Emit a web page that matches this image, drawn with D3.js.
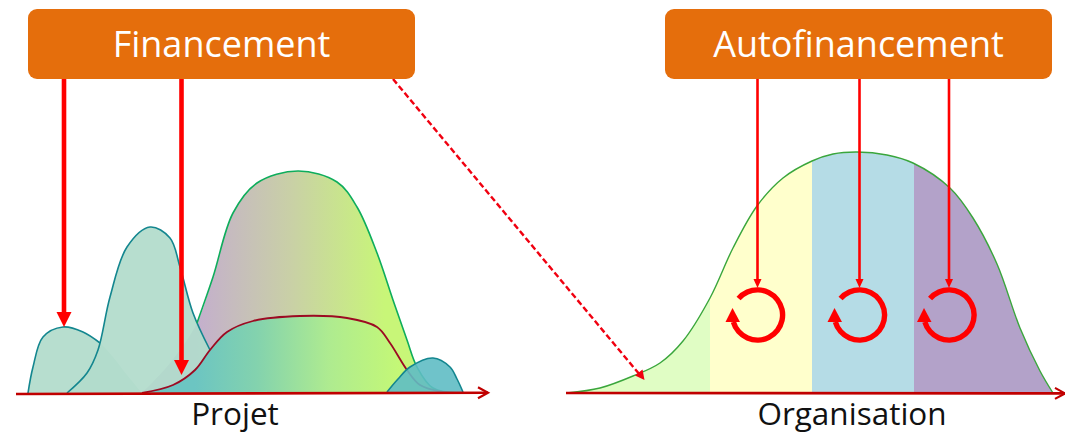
<!DOCTYPE html>
<html lang="fr">
<head>
<meta charset="utf-8">
<title>Financement et autofinancement</title>
<script src="https://cdn.jsdelivr.net/npm/d3@7/dist/d3.min.js"></script>
<style>
  html, body { margin: 0; padding: 0; background: #fff; }
  svg { display: block; }
  text { font-family: "Open Sans", sans-serif; }
</style>
</head>
<body>
<svg id="chart" width="1065" height="432"></svg>
<script>
// Project humps on the "Projet" axis: [position, level]
const seedStage = [[28,0],[33,26],[43,56],[63,66],[83,61],[100,50],[113,36],[127,18],[142,0]];
const seedStroked = 100;
const launchStage = [[67,0],[87,20],[98,43],[110,96],[127,146],[150,166],[170,155],[180,126],[193,80],[210,43],[232,0]];
const launchStroked = 210;
const mainStage = [[142,0],[170,30],[197,70],[213,116],[233,180],[257,210],[298,222],[337,211],[357,186],[377,140],[393,93],[407,53],[417,26],[433,5],[460,0]];
const mainStroked = 197;
const coreStage = [[142,0],[173,8],[195,23],[210,43],[227,61],[253,72],[300,77],[347,75],[377,66],[390,50],[407,23],[420,8],[443,1],[455,0]];
const closingStage = [[387,1],[398,14],[410,26],[433,35],[450,26],[457,14],[463,1]];

// Organisation life curve on the second axis: [position, level]
const orgCurve = [[567,0],[600,5],[633,17],[660,30],[683,52],[710,95],[733,145],[757,187],[783,215],[812,232],[833,239],[857,241],[887,238],[913,230],[950,205],[973,175],[997,129],[1020,65],[1040,22],[1053,0]];
const orgBandEdges = [567, 710, 812, 914, 1053];
const orgBandColors = ["#e0fdc4", "#ffffcc", "#b5dce6", "#b3a2c9"];

// Funding boxes and their labels
const boxLabels = ["Financement", "Autofinancement"];
const boxSpans = [[28, 415], [665, 1052]];
const axisNames = ["Projet", "Organisation"];
const axisNameCentres = [235, 852];

// Funding flows
const heavyFlows = [[64, 66], [181.5, 18]];
const lightFlows = [757.5, 859.5, 949];
const cycleCentres = [757.5, 859.5, 949];

const svg = d3.select("#chart");
const x = d3.scaleLinear().domain([0, 1065]).range([0, 1065]);
const y = d3.scaleLinear().domain([0, 241]).range([393, 152]);

const curve = d3.curveCatmullRom.alpha(0.5);
const area = d3.area().x(d => x(d[0])).y0(y(0)).y1(d => y(d[1])).curve(curve);
const line = d3.line().x(d => x(d[0])).y(d => y(d[1])).curve(curve);
const poly = d3.line();

// Gradients running across the main project stage
const defs = svg.append("defs");
function hGradient(id, x1, x2, stops) {
  const g = defs.append("linearGradient").attr("id", id)
    .attr("gradientUnits", "userSpaceOnUse")
    .attr("x1", x(x1)).attr("x2", x(x2)).attr("y1", 0).attr("y2", 0);
  stops.forEach(s => g.append("stop").attr("offset", s[0]).attr("stop-color", s[1]));
}
hGradient("mainFill", 197, 385, [[0, "#c4afcd"], [0.5, "#c9d0a6"], [1, "#c8f678"]]);
hGradient("coreFill", 195, 400, [[0, "#6cc5c2"], [0.3, "#83d2ae"], [0.65, "#aeeb90"], [1, "#c4f876"]]);
defs.append("clipPath").attr("id", "orgClip").append("path").attr("d", area(orgCurve));

// Left panel
svg.append("path").attr("d", area(mainStage)).attr("fill", "url(#mainFill)");
[seedStage, launchStage].forEach(s => {
  svg.append("path").attr("d", area(s)).attr("fill", "#b2dbcb").attr("fill-opacity", 0.93);
});
const strokeUpTo = (pts, limit) => pts.filter(p => p[0] <= limit);
const strokeFrom = (pts, limit) => pts.filter(p => p[0] >= limit);
svg.append("path").attr("d", line(strokeUpTo(seedStage, seedStroked)))
  .attr("fill", "none").attr("stroke", "#13868f").attr("stroke-width", 1.6);
svg.append("path").attr("d", line(strokeUpTo(launchStage, launchStroked)))
  .attr("fill", "none").attr("stroke", "#13868f").attr("stroke-width", 1.6);
svg.append("path").attr("d", line(strokeFrom(mainStage, mainStroked)))
  .attr("fill", "none").attr("stroke", "#0ead5c").attr("stroke-width", 1.6);
svg.append("path").attr("d", area(coreStage)).attr("fill", "url(#coreFill)");
svg.append("path").attr("d", line(coreStage))
  .attr("fill", "none").attr("stroke", "#9c0a22").attr("stroke-width", 1.8);
svg.append("path").attr("d", area(closingStage)).attr("fill", "#5fbcc4").attr("fill-opacity", 0.9);
svg.append("path").attr("d", line(closingStage))
  .attr("fill", "none").attr("stroke", "#13868f").attr("stroke-width", 1.6);

// Right panel: one coloured band per growth phase, cut to the curve
const orgBands = svg.append("g").attr("clip-path", "url(#orgClip)");
orgBandColors.forEach((c, i) => {
  orgBands.append("rect")
    .attr("x", x(orgBandEdges[i])).attr("width", x(orgBandEdges[i + 1]) - x(orgBandEdges[i]))
    .attr("y", y(241) - 2).attr("height", y(0) - y(241) + 2)
    .attr("fill", c);
});
svg.append("path").attr("d", line(orgCurve))
  .attr("fill", "none").attr("stroke", "#3aa63c").attr("stroke-width", 1.4);

// Axes with an open arrow tip
const axisRed = "#c00000";
[[16, 394, 488, 392.7], [566, 393, 1065, 393.4]].forEach(a => {
  svg.append("line").attr("x1", a[0]).attr("y1", a[1]).attr("x2", a[2]).attr("y2", a[3])
    .attr("stroke", axisRed).attr("stroke-width", 2.6);
  svg.append("path")
    .attr("d", poly([[a[2] - 10, a[3] - 5.5], [a[2], a[3]], [a[2] - 10, a[3] + 5.5]]))
    .attr("fill", "none").attr("stroke", axisRed).attr("stroke-width", 2.2);
});
axisNames.forEach((t, i) => {
  svg.append("text").attr("x", x(axisNameCentres[i])).attr("y", 424.5)
    .attr("text-anchor", "middle").attr("font-size", 31.5).attr("fill", "#111").text(t);
});

// Dashed transfer between the two panels
const transfer = [[393, 79], [640, 375]];
svg.append("line").attr("x1", transfer[0][0]).attr("y1", transfer[0][1])
  .attr("x2", transfer[1][0]).attr("y2", transfer[1][1])
  .attr("stroke", "#f00010").attr("stroke-width", 2.4).attr("stroke-dasharray", "6 3");
svg.append("path").attr("d", poly([[644.5, 380], [635, 375.5], [642.5, 369.5]])).attr("fill", "#f00010");

// Funding arrows
const flowRed = "#ff0000";
heavyFlows.forEach(([px, level]) => {
  const tip = y(level);
  svg.append("line").attr("x1", x(px)).attr("x2", x(px)).attr("y1", 79).attr("y2", tip - 14)
    .attr("stroke", flowRed).attr("stroke-width", 4.6);
  svg.append("path").attr("d", poly([[x(px) - 7.5, tip - 15], [x(px) + 7.5, tip - 15], [x(px), tip]])).attr("fill", flowRed);
});
lightFlows.forEach(px => {
  svg.append("line").attr("x1", x(px)).attr("x2", x(px)).attr("y1", 79).attr("y2", 281)
    .attr("stroke", flowRed).attr("stroke-width", 2.6);
  svg.append("path").attr("d", poly([[x(px) - 4, 279], [x(px) + 4, 279], [x(px), 288]])).attr("fill", flowRed);
});

// Renewal cycles
const deg = Math.PI / 180;
const ring = d3.arc().innerRadius(22.4).outerRadius(27.8).startAngle(-49 * deg).endAngle(254 * deg);
cycleCentres.forEach(cx => {
  const g = svg.append("g").attr("transform", `translate(${x(cx)},315)`);
  g.append("path").attr("d", ring()).attr("fill", flowRed);
  g.append("path").attr("d", poly([[-25, -7], [-32, 7], [-17.5, 7]])).attr("fill", flowRed);
});

// Funding boxes
boxLabels.forEach((t, i) => {
  const [a, b] = boxSpans[i];
  svg.append("rect").attr("x", x(a)).attr("y", 9).attr("width", x(b) - x(a)).attr("height", 70)
    .attr("rx", 9).attr("fill", "#e56e0c");
  svg.append("text").attr("x", x((a + b) / 2)).attr("y", 56.5)
    .attr("text-anchor", "middle").attr("font-size", 36).attr("fill", "#fff").text(t);
});
</script>
</body>
</html>
